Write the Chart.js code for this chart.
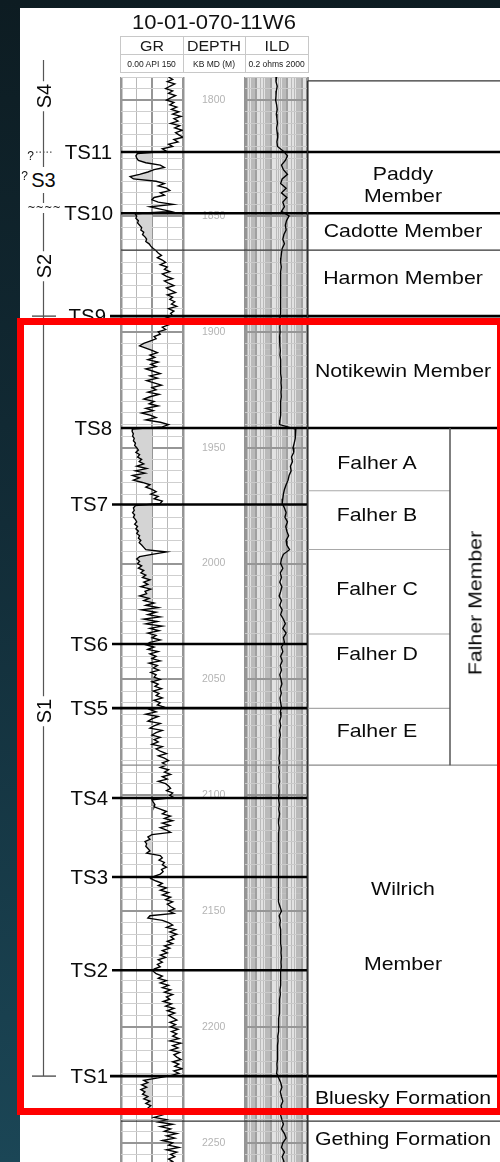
<!DOCTYPE html>
<html><head><meta charset="utf-8"><title>10-01-070-11W6</title>
<script src="https://cdn.jsdelivr.net/npm/chart.js@4.4.1/dist/chart.umd.min.js"></script>
<style>
html,body{margin:0;padding:0}
body{width:500px;height:1162px;overflow:hidden;position:relative;background:linear-gradient(180deg,#0d1c22 0%,#122c37 45%,#1b4656 100%);font-family:"Liberation Sans",Arial,Helvetica,sans-serif;color:#111}
#panel{position:absolute;left:20px;top:8px;width:480px;height:1154px;background:#fff;z-index:0}
canvas{position:absolute}
.t{position:absolute;white-space:nowrap;line-height:1;width:0;height:0}
.t>span{position:absolute;left:0;top:0;display:block;white-space:nowrap}
#red{position:absolute;left:17px;top:318px;width:487px;height:797px;box-sizing:border-box;border:7px solid #ff0000;z-index:10}
.hl{position:absolute;background:#c8c8c8;z-index:3}
</style></head>
<body>
<div id="panel"></div>
<canvas id="gr" width="126" height="1089" style="left:119px;top:77px;z-index:1"></canvas>
<canvas id="ild" width="66" height="1089" style="left:243px;top:77px;z-index:1"></canvas>
<canvas id="ov" width="500" height="1162" style="left:0;top:0;z-index:2"></canvas>
<div id="labels"></div>
<div id="red"></div>
<script>
// ---------------- DATA ----------------
const wellName = '10-01-070-11W6';
const trackNames = ['GR', 'DEPTH', 'ILD'];
const trackUnits = ['0.00 API 150', 'KB MD (M)', '0.2 ohms 2000'];

// Gamma ray (API), sampled every 1 m from 1790 m
const GR_TOP = 1790, GR_STEP = 1;
const grValues = [
  115,125,112,130,118,108,125,115,132,120,
  110,128,118,135,122,140,125,145,128,138,
  120,142,130,148,132,140,150,128,138,115,
  125,100,110,40,36,38,42,60,95,105,
  80,65,45,22,30,85,105,90,110,118,
  95,105,80,75,90,126,70,95,120,34,
  38,36,42,40,45,50,48,55,52,58,
  62,60,68,72,78,85,90,98,88,100,
  108,95,112,105,118,100,110,125,105,115,
  128,110,120,132,112,125,118,130,122,135,
  115,128,120,125,110,130,105,115,100,108,
  90,95,80,85,70,55,45,60,75,88,
  70,82,65,90,72,85,60,78,95,70,
  88,62,80,98,75,85,65,92,70,55,
  80,68,90,60,78,50,72,85,60,95,
  115,100,28,27,30,28,32,30,35,33,
  38,42,36,45,40,50,44,55,38,62,
  35,58,28,45,30,52,70,60,75,85,
  72,90,80,100,95,35,30,32,28,33,
  30,35,38,33,40,36,42,38,45,42,
  48,44,50,55,60,110,75,45,38,45,
  40,50,42,55,48,60,52,70,55,65,
  48,72,58,62,45,68,55,80,60,90,
  50,85,65,95,55,88,60,100,70,92,
  65,85,75,95,70,60,80,65,90,70,
  85,75,95,68,88,78,92,72,85,80,
  95,75,90,82,98,78,92,85,100,80,
  95,88,105,70,85,60,90,75,65,95,
  80,70,100,85,75,95,80,90,75,100,
  85,95,110,90,105,115,100,110,95,115,
  105,120,100,112,90,108,115,120,110,125,
  118,128,75,78,82,80,95,110,100,120,
  105,125,100,118,95,110,120,75,65,70,
  58,62,60,65,70,62,95,100,92,105,
  100,110,98,102,95,80,72,85,100,90,
  110,95,115,100,120,108,125,112,120,130,
  115,128,70,65,100,115,125,110,132,118,
  135,120,128,112,125,105,118,100,112,95,
  108,90,100,88,95,80,78,85,100,90,
  110,95,115,100,120,105,125,110,118,102,
  122,108,128,112,130,115,125,135,118,132,
  120,138,122,135,125,140,118,145,125,138,
  120,142,128,135,145,125,140,130,148,128,
  140,120,90,55,65,50,62,48,58,52,
  65,55,70,60,72,65,75,85,100,80,
  110,90,125,95,120,105,135,110,130,100,
  125,115,140,110,135,120,130,115,125,110,
  120
];
const GR_CUTOFF = 75;          // sand shading cutoff (API)

// Deep induction resistivity (ohm.m), sampled every 2 m from 1790 m
const ILD_TOP = 1790, ILD_STEP = 2;
const ildValues = [
  22,20,24,21,20,19,22,24,21,23,
  25,22,24,26,23,25,60,110,80,45,
  60,110,50,40,90,45,100,55,70,45,
  140,95,80,90,65,55,70,50,45,42,
  40,44,40,38,42,40,38,41,39,42,
  40,38,36,38,35,37,34,36,35,38,
  36,40,38,42,40,44,42,45,42,44,
  40,42,38,40,36,34,380,340,360,300,
  250,280,200,230,170,190,140,120,90,70,
  60,55,50,70,90,75,110,85,100,130,
  90,100,150,60,45,40,55,38,45,35,
  48,40,32,45,35,50,40,60,80,55,
  90,60,70,45,55,40,50,38,45,35,
  42,48,38,44,36,40,45,38,42,35,
  40,34,38,33,36,32,35,31,34,30,
  33,31,34,30,32,31,30,33,30,34,
  31,29,32,30,31,28,30,29,31,28,
  30,29,27,30,28,30,27,29,28,36,
  45,32,38,35,40,38,42,40,44,42,
  45,42,44,40,42,38,40,36,38,34,
  35,32,34,30,31,28,29,26,27,25,
  26,24,25,23,24,22,30,40,48,38,
  45,55,42,50,40,48,60,45,70,90,
  55,45,70,50,65,48
];

// Depth scale (m)
const D_MIN = 1790, D_MAX = 2260;
const depthLabelEvery = 50, depthGridEvery = 5;

// Transgressive surfaces (tops)
const topNames  = ['TS11','TS10','TS9','TS8','TS7','TS6','TS5','TS4','TS3','TS2','TS1'];
const topDepths = [1822.4,1848.8,1893.2,1941.5,1974.5,2034.7,2062.4,2101.2,2135.3,2175.5,2221.2];
const topsCrossTable = ['TS11','TS10','TS9','TS8','TS1'];

// Lithostratigraphic table
const zoneBoundaryDepths = [1791.7, 1864.7, 1968.6, 1993.9, 2030.4, 2062.5, 2087.0, 2240.6];
const zoneBoundaryKind   = ['frame','member','falher','falher','falher','falher','member2','formation'];
const zoneLabelText  = ['Paddy','Member','Cadotte Member','Harmon Member','Notikewin Member','Falher A','Falher B','Falher C','Falher D','Falher E','Wilrich','Member','Bluesky Formation','Gething Formation'];
const zoneLabelDepth = [1831.4,1840.9,1856.0,1876.3,1916.5,1956.2,1978.6,2010.6,2038.6,2071.9,2140.1,2172.4,2230.3,2248.0];
const falherName = 'Falher Member', falherTop = 1941.5, falherBase = 2087.0, falherLabelDepth = 2017.0;

// Sequences
const seqNames = ['S4','S3','S2','S1'];
const seqLabelDepths = [1798.0, 1834.5, 1871.5, 2063.7];
const seqColumnTop = 1782.7, seqColumnBase = 2221.2;

// ---------------- LAYOUT ----------------
const PAGE_W = 500, PAGE_H = 1162;
const TRACK_TOP = 77, TRACK_H = 1089;
const PXM = TRACK_H / (D_MAX - D_MIN);
const OV_MIN = D_MIN - TRACK_TOP / PXM, OV_MAX = D_MIN + (PAGE_H - TRACK_TOP) / PXM;
const L = {col: 43.5, grL: 121, grR: 183, ildL: 245, ildR: 307, zoneL: 307.5, falherX: 450, right: 500,
  zoneCx: 403, falherCx: 377, falherLblX: 475};
const FONT = '"Liberation Sans", Arial, Helvetica, sans-serif';

// ---------------- CHARTS ----------------
const common = {responsive: false, animation: false, events: [], maintainAspectRatio: false,
  plugins: {legend: {display: false}, tooltip: {enabled: false}}};

const areaBg = {
  id: 'areaBg',
  beforeDraw(chart, args, opts) {
    if (!opts || !opts.color) return;
    const a = chart.chartArea, c = chart.ctx;
    c.save(); c.fillStyle = opts.color; c.fillRect(a.left, a.top, a.right - a.left, a.bottom - a.top); c.restore();
  }
};

const grPts = grValues.map((v, i) => ({x: v, y: GR_TOP + i * GR_STEP}));
const grFillPts = grValues.map((v, i) => ({x: Math.min(v, GR_CUTOFF), y: GR_TOP + i * GR_STEP}));

const depthGrid = (ctx) => (ctx.tick && ctx.tick.value % depthLabelEvery === 0);

new Chart(document.getElementById('gr'), {
  type: 'line',
  data: {datasets: [
    {data: grPts, borderColor: '#000', borderWidth: 1.35, pointRadius: 0, tension: 0, fill: false, order: 0},
    {data: grFillPts, borderColor: 'rgba(0,0,0,0)', borderWidth: 0, backgroundColor: '#d4d4d4', pointRadius: 0, tension: 0, fill: {value: GR_CUTOFF}, order: 1}
  ]},
  options: Object.assign({}, common, {
    indexAxis: 'y',
    layout: {padding: {left: 2, right: 0, top: 0, bottom: 0}},
    scales: {
      x: {type: 'linear', min: 0, max: 150, position: 'bottom',
        ticks: {display: false, stepSize: 37.5},
        border: {display: false},
        grid: {drawTicks: false,
          color: c => (c.tick.value === 0 || c.tick.value === 150 || c.tick.value === 75) ? '#959595' : '#b8b8b8',
          lineWidth: c => (c.tick.value === 0 || c.tick.value === 150) ? 2.5 : (c.tick.value === 75 ? 2 : 1)}},
      y: {type: 'linear', min: D_MIN, max: D_MAX, reverse: true, position: 'right',
        afterFit: s => { s.width = 62; s.paddingTop = 0; s.paddingBottom = 0; },
        ticks: {stepSize: depthGridEvery, autoSkip: false, crossAlign: 'center', padding: 19,
          color: '#b4b4b4', font: {size: 10.5, family: FONT},
          callback: v => (v % depthLabelEvery === 0 ? String(v) : '')},
        border: {display: false},
        grid: {drawTicks: false,
          color: c => depthGrid(c) ? '#969696' : '#cfcfcf',
          lineWidth: c => depthGrid(c) ? 2 : 1}}
    }
  })
});

const ildPts = ildValues.map((v, i) => ({x: v, y: ILD_TOP + i * ILD_STEP}));
const ildGridValues = [];
[0.1, 1, 10, 100, 1000].forEach(b => { for (let m = 1; m <= 9; m++) { const v = +(b * m).toPrecision(3); if (v >= 0.2 && v <= 2000) ildGridValues.push(v); } });
const isDecade = v => Math.abs(Math.log10(v) - Math.round(Math.log10(v))) < 1e-9;

new Chart(document.getElementById('ild'), {
  type: 'line',
  plugins: [areaBg],
  data: {datasets: [
    {data: ildPts, borderColor: '#000', borderWidth: 1.35, pointRadius: 0, tension: 0, fill: false}
  ]},
  options: Object.assign({}, common, {
    indexAxis: 'y',
    layout: {padding: {left: 2, right: 2, top: 0, bottom: 0}},
    plugins: {legend: {display: false}, tooltip: {enabled: false}, areaBg: {color: '#e2e2e2'}},
    scales: {
      x: {type: 'logarithmic', min: 0.2, max: 2000, position: 'bottom',
        afterBuildTicks: s => { s.ticks = ildGridValues.map(v => ({value: v})); },
        ticks: {display: false},
        border: {display: false},
        grid: {drawTicks: false,
          color: c => (c.tick.value === 0.2 || c.tick.value === 2000) ? '#949494' : (isDecade(c.tick.value) ? '#a0a0a0' : '#bababa'),
          lineWidth: c => (c.tick.value === 0.2 || c.tick.value === 2000) ? 3 : (isDecade(c.tick.value) ? 2 : 1)}},
      y: {type: 'linear', min: D_MIN, max: D_MAX, reverse: true, position: 'left',
        ticks: {display: false, stepSize: depthGridEvery},
        border: {display: false},
        grid: {drawTicks: false,
          color: c => depthGrid(c) ? '#969696' : '#cacaca',
          lineWidth: c => depthGrid(c) ? 2 : 1}}
    }
  })
});

// ---------------- OVERLAY (tops, table, sequences) ----------------
const ovSets = [];
function seg(x0, d0, x1, d1, color, width, dash) {
  ovSets.push({data: [{x: x0, y: d0}, {x: x1, y: d1}], showLine: true, borderColor: color, borderWidth: width,
    borderDash: dash || [], pointRadius: 0, fill: false, tension: 0});
}
// sequence column
seg(L.col, seqColumnTop, L.col, seqColumnBase, '#555', 1.2);
seg(32, topDepths[2], 56, topDepths[2], '#444', 1.3);
seg(32, topDepths[10], 56, topDepths[10], '#444', 1.3);
seg(36, topDepths[0], 53, topDepths[0], '#555', 1.3, [1.5, 2]);
// table frame
seg(L.zoneL, zoneBoundaryDepths[0], L.zoneL, OV_MAX, '#333', 1.2);
seg(L.falherX, falherTop, L.falherX, falherBase, '#555', 1.5);
// zone boundaries
zoneBoundaryDepths.forEach((d, i) => {
  const k = zoneBoundaryKind[i];
  if (k === 'frame') seg(L.zoneL, d, L.right, d, '#333', 1.3);
  else if (k === 'member') seg(L.grL, d, L.right, d, '#333', 1.3);
  else if (k === 'member2') seg(L.grL, d, L.right, d, '#8a8a8a', 1.1);
  else if (k === 'falher') seg(L.zoneL, d, L.falherX, d, '#a8a8a8', 1.1);
  else seg(L.grL, d, L.right, d, '#333', 1.3);
});
// tops
const topLineStart = {TS11: 121, TS10: 121, TS8: 121, TS9: 110, TS1: 110};
const topLabelRight = {TS11: 112, TS10: 113, TS8: 112, TS9: 106};
topNames.forEach((n, i) => {
  const x0 = topLineStart[n] || 112;
  const x1 = topsCrossTable.includes(n) ? L.right : L.ildR;
  seg(x0, topDepths[i], x1, topDepths[i], '#000', 2.6);
});

const ov = new Chart(document.getElementById('ov'), {
  type: 'scatter',
  data: {datasets: ovSets},
  options: Object.assign({}, common, {
    layout: {padding: 0},
    scales: {
      x: {type: 'linear', min: 0, max: PAGE_W, display: false},
      y: {type: 'linear', min: OV_MIN, max: OV_MAX, reverse: true, display: false}
    }
  })
});

// ---------------- TEXT ----------------
const labelsEl = document.getElementById('labels');
function addText(txt, x, y, o) {
  o = o || {};
  const size = o.size || 19, sx = o.sx || 1, align = o.align || 'center', rot = o.rot || 0;
  const wrap = document.createElement('div');
  wrap.className = 't';
  wrap.style.left = x + 'px'; wrap.style.top = y + 'px';
  wrap.style.zIndex = o.z || 5;
  const sp = document.createElement('span');
  sp.textContent = txt;
  sp.style.fontSize = size + 'px';
  sp.style.fontFamily = o.family || FONT;
  sp.style.color = o.color || '#111';
  if (o.bg) { sp.style.background = o.bg; sp.style.padding = o.pad || '1px 1px'; }
  const tx = align === 'center' ? '-50%' : (align === 'right' ? '-100%' : '0');
  const ox = align === 'center' ? '50%' : (align === 'right' ? '100%' : '0');
  sp.style.transformOrigin = ox + ' 50%';
  sp.style.transform = 'translate(' + tx + ',-50%) rotate(' + rot + 'deg) scaleX(' + sx + ')';
  wrap.appendChild(sp);
  labelsEl.appendChild(wrap);
}
const Y = d => ov.scales.y.getPixelForValue(d);

// title & header
addText(wellName, 213.5, 21, {size: 21, sx: 1.05});
function box(x, y, w, h) { const e = document.createElement('div'); e.className = 'hl'; e.style.left = x + 'px'; e.style.top = y + 'px'; e.style.width = w + 'px'; e.style.height = h + 'px'; labelsEl.appendChild(e); }
box(120, 36, 189, 1); box(120, 54, 189, 1); box(120, 72, 189, 1);
box(120, 36, 1, 37); box(183, 36, 1, 37); box(245, 36, 1, 37); box(308, 36, 1, 37);
const hdrCx = [151.5, 214, 276.5];
trackNames.forEach((n, i) => addText(n, hdrCx[i], 45.5, {size: 14.5, sx: 1.1, color: '#1a1a1a'}));
trackUnits.forEach((n, i) => addText(n, hdrCx[i], 63.5, {size: 8.5, sx: 1.0, color: '#1a1a1a'}));

// tops labels
topNames.forEach((n, i) => addText(n, topLabelRight[n] || 108, Y(topDepths[i]), {size: 20, align: 'right', sx: 1.02, color: '#0a0a0a'}));

// zone labels
zoneLabelText.forEach((t, i) => {
  const cx = t.indexOf('Falher ') === 0 ? L.falherCx : L.zoneCx;
  addText(t, cx, Y(zoneLabelDepth[i]), {size: 19, sx: 1.12, color: '#0a0a0a'});
});
addText(falherName, L.falherLblX, Y(falherLabelDepth), {size: 19, sx: 1.12, rot: -90, color: '#0a0a0a'});

// sequences
seqNames.forEach((n, i) => {
  if (n === 'S3') addText(n, L.col, Y(seqLabelDepths[i]), {size: 20, bg: '#fff', pad: '3px 1px', color: '#0a0a0a'});
  else addText(n, L.col, Y(seqLabelDepths[i]), {size: 20, rot: -90, bg: '#fff', pad: '0 3px', color: '#0a0a0a'});
});
addText('?', 24.5, Y(seqLabelDepths[1]) - 4, {size: 12});
addText('?', 30.5, Y(topDepths[0]) + 4, {size: 12});
addText('~~~~', 44, Y(topDepths[1]) - 5, {size: 10, family: '"DejaVu Sans", sans-serif', bg: '#fff', pad: '0'});
</script>
</body></html>
